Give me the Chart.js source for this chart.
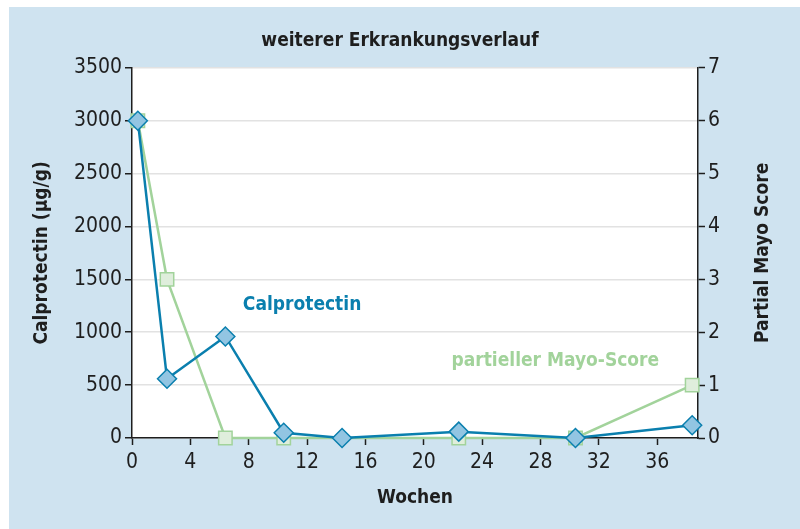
<!DOCTYPE html>
<html>
<head>
<meta charset="utf-8">
<script src="https://cdn.jsdelivr.net/npm/chart.js@4.4.0/dist/chart.umd.min.js"></script>
<style>
  html, body { margin: 0; padding: 0; background: #fff; }
  #wrap { width: 800px; height: 529px; }
</style>
</head>
<body>
<div id="wrap"><canvas id="chart" width="800" height="529"></canvas></div>
<script>
// weeks
const calproWeeks = [0.4, 2.4, 6.4, 10.4, 14.4, 22.4, 30.4, 38.4];
const calproValues = [3000, 560, 960, 50, 0, 60, 0, 120];
const mayoWeeks = [0.4, 2.4, 6.4, 10.4, 22.4, 30.4, 38.4];
const mayoValues = [6, 3, 0, 0, 0, 0, 1];
const xTicks = [0, 4, 8, 12, 16, 20, 24, 28, 32, 36];

const blue = "#0a7fae";
const green = "#a2d39b";
const dark = "#1e1e1e";
const font = "'Liberation Sans Narrow', 'DejaVu Sans Condensed', 'Liberation Sans', sans-serif";

const bgPlugin = {
  id: "bg",
  beforeDraw(chart) {
    const c = chart.ctx, a = chart.chartArea;
    c.save();
    c.fillStyle = "#fff";
    c.fillRect(0, 0, chart.width, chart.height);
    c.fillStyle = "#cfe3f0";
    c.fillRect(9, 7, chart.width - 9, chart.height - 7);
    c.fillStyle = "#fff";
    c.fillRect(a.left, a.top, a.right - a.left, a.bottom - a.top);
    c.restore();
  }
};

// series labels and rotated axis titles
const labelPlugin = {
  id: "seriesLabels",
  afterDatasetsDraw(chart) {
    const c = chart.ctx, x = chart.scales.x, y = chart.scales.y, y2 = chart.scales.y2;
    const a = chart.chartArea;
    c.save();
    c.font = "bold 19px " + font;
    c.textBaseline = "middle";
    c.textAlign = "left";
    c.fillStyle = blue;
    c.fillText("Calprotectin", x.getPixelForValue(7.6), y.getPixelForValue(1258));
    c.fillStyle = green;
    c.fillText("partieller Mayo-Score", x.getPixelForValue(21.9), y2.getPixelForValue(1.46));

    c.fillStyle = dark;
    c.textAlign = "center";
    const midY = (a.top + a.bottom) / 2;
    c.translate(42, midY);
    c.rotate(-Math.PI / 2);
    c.fillText("Calprotectin (µg/g)", 0, 0);
    c.restore();

    c.save();
    c.font = "bold 19px " + font;
    c.fillStyle = dark;
    c.textAlign = "center";
    c.textBaseline = "middle";
    c.translate(763, midY);
    c.rotate(-Math.PI / 2);
    c.fillText("Partial Mayo Score", 0, 0);
    c.restore();
  }
};

new Chart(document.getElementById("chart"), {
  type: "line",
  data: {
    datasets: [
      {
        label: "Calprotectin",
        data: calproWeeks.map((w, i) => ({ x: w, y: calproValues[i] })),
        yAxisID: "y",
        borderColor: blue,
        borderWidth: 2.5,
        pointStyle: "rectRot",
        pointRadius: 9.5,
        pointBackgroundColor: "#92c5e2",
        pointBorderColor: blue,
        pointBorderWidth: 1.5,
        tension: 0,
        clip: false,
        order: 1
      },
      {
        label: "partieller Mayo-Score",
        data: mayoWeeks.map((w, i) => ({ x: w, y: mayoValues[i] })),
        yAxisID: "y2",
        borderColor: green,
        borderWidth: 2.5,
        pointStyle: "rect",
        pointRadius: 9.5,
        pointBackgroundColor: "#dfeedc",
        pointBorderColor: green,
        pointBorderWidth: 1.5,
        tension: 0,
        clip: false,
        order: 2
      }
    ]
  },
  options: {
    responsive: false,
    animation: false,
    layout: { padding: 0 },
    plugins: {
      legend: { display: false },
      tooltip: { enabled: false },
      title: {
        display: true,
        text: "weiterer Erkrankungsverlauf",
        color: dark,
        font: { family: font, size: 19, weight: "bold" },
        padding: { top: 30, bottom: 15 }
      }
    },
    scales: {
      x: {
        type: "linear",
        min: 0,
        max: 38.8,
        afterFit: s => { s.height = 91; },
        afterBuildTicks: s => { s.ticks = xTicks.map(v => ({ value: v })); },
        ticks: { color: dark, font: { family: font, size: 21 }, padding: 5 },
        grid: { display: true, drawOnChartArea: false, drawTicks: true, tickLength: 7, tickColor: dark, tickWidth: 1.5 },
        border: { display: true, color: dark, width: 1.5 },
        title: { display: true, text: "Wochen", color: dark, font: { family: font, size: 19, weight: "bold" }, padding: { top: 4, bottom: 20 } }
      },
      y: {
        position: "left",
        min: 0,
        max: 3500,
        afterFit: s => { s.width = 132; },
        ticks: { stepSize: 500, color: dark, font: { family: font, size: 21 }, padding: 3, callback: v => String(v) },
        grid: { color: "#e2e2e2", lineWidth: 1.5, drawTicks: true, tickLength: 7, tickColor: dark, tickWidth: 1.5 },
        border: { display: true, color: dark, width: 1.5 },
        title: { display: false }
      },
      y2: {
        position: "right",
        min: 0,
        max: 7,
        afterFit: s => { s.width = 102; },
        ticks: { stepSize: 1, color: dark, font: { family: font, size: 21 }, padding: 3 },
        grid: { display: true, drawOnChartArea: false, drawTicks: true, tickLength: 7, tickColor: dark, tickWidth: 1.5 },
        border: { display: true, color: dark, width: 1.5 },
        title: { display: false }
      }
    }
  },
  plugins: [bgPlugin, labelPlugin]
});
</script>
</body>
</html>
